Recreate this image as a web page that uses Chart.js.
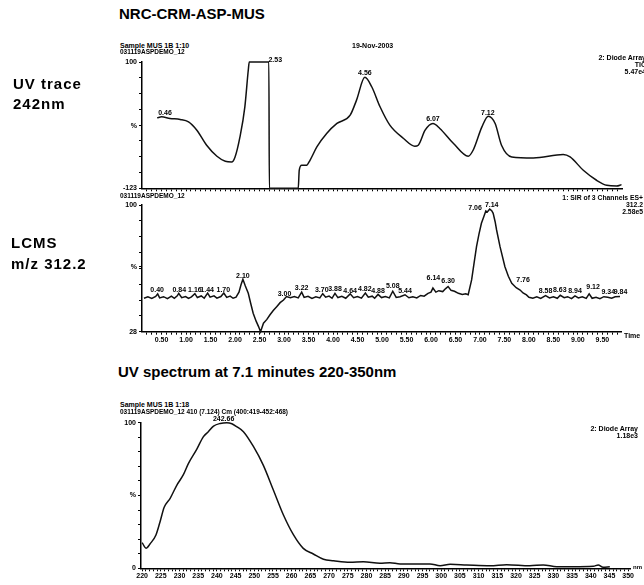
<!DOCTYPE html>
<html><head><meta charset="utf-8">
<script src="https://cdn.jsdelivr.net/npm/chart.js@4.4.1/dist/chart.umd.min.js"></script>
<style>
html,body{margin:0;padding:0;background:#fff;}
#wrap{position:relative;width:644px;height:585px;overflow:hidden;background:#fff;}
canvas{position:absolute;left:0;z-index:1;}
.t{position:absolute;white-space:nowrap;font-family:"Liberation Sans",Arial,sans-serif;font-weight:bold;color:#000;line-height:1;z-index:2;}
.r{text-align:right;}
.big{font-size:15px;letter-spacing:1px;}
</style></head><body>
<div id="wrap">
<canvas id="c1" width="644" height="145" style="top:55px"></canvas>
<canvas id="c2" width="644" height="150" style="top:198px"></canvas>
<canvas id="c3" width="644" height="173" style="top:412px"></canvas>

<div class="t" style="left:119px;top:6px;font-size:15px;">NRC-CRM-ASP-MUS</div>
<div class="t big" style="left:13px;top:75.6px;">UV trace</div>
<div class="t big" style="left:13px;top:95.6px;">242nm</div>
<div class="t big" style="left:11px;top:234.6px;">LCMS</div>
<div class="t big" style="left:11px;top:255.6px;">m/z 312.2</div>
<div class="t" style="left:118px;top:364px;font-size:15px;">UV spectrum at 7.1 minutes 220-350nm</div>

<div class="t" style="left:120px;top:42px;font-size:7px;">Sample MUS 1B 1:10</div>
<div class="t" style="left:120px;top:49px;font-size:6.5px;">031119ASPDEMO_12</div>
<div class="t" style="left:352px;top:42px;font-size:7px;">19-Nov-2003</div>
<div class="t r" style="right:-2px;top:54px;font-size:7px;line-height:7px">2: Diode Array<br>TIC<br>5.47e4</div>

<div class="t" style="left:120px;top:193px;font-size:6.5px;">031119ASPDEMO_12</div>
<div class="t r" style="right:1px;top:194px;font-size:6.8px;line-height:7px">1: SIR of 3 Channels ES+<br>312.2<br>2.58e5</div>
<div class="t" style="left:624px;top:332px;font-size:7px;">Time</div>

<div class="t" style="left:120px;top:401px;font-size:7px;">Sample MUS 1B 1:18</div>
<div class="t" style="left:120px;top:409px;font-size:6.5px;">031119ASPDEMO_12 410 (7.124) Cm (400:419-452:468)</div>
<div class="t r" style="right:6px;top:425px;font-size:7px;line-height:7px">2: Diode Array<br>1.18e3</div>
<div class="t" style="left:633px;top:564px;font-size:6px;">nm</div>
</div>

<script>
// ---------- UV trace 242 nm (time in min, %) ----------
const uvTime = [0.41,0.50,0.67,0.88,1.05,1.22,1.42,1.63,1.80,1.93,2.00,2.10,2.20,2.27,2.29,2.69,2.70,3.29,3.31,3.36,3.46,3.53,3.67,3.87,4.08,4.35,4.48,4.65,4.79,4.96,5.16,5.44,5.67,5.74,5.88,6.04,6.18,6.46,6.76,6.86,7.04,7.17,7.31,7.44,7.65,8.09,8.70,8.84,9.11,9.38,9.59,9.79,9.89];
const uvValue = [1.4,3.2,0.4,-1.4,-5.7,-20.4,-46.9,-66.4,-75.2,-76.5,-67.6,-32.2,20.9,85.8,100,100,-123,-123,-91.2,-82.3,-82.3,-73.5,-49.9,-26.2,-8.5,6.2,32.7,72.9,56.3,20.9,-11.5,-35.0,-48.7,-46.9,-20.4,-8.5,-17.3,-43.9,-66.4,-55.8,-14.5,4.4,-8.5,-46.9,-67.6,-69.4,-63.4,-67.6,-91.2,-108.8,-117.7,-118.9,-116.5];
const uvPeakTexts = ['0.46','2.53','4.56','6.07','7.12'];
const uvPeakTimes = [0.57,2.82,4.65,6.04,7.16];
const uvPeakLevels = [9.2,103.5,80,-0.9,10.3];

// ---------- LCMS m/z 312.2 ----------
const lcmsTime = [
0.14,0.22,0.30,0.38,0.42,0.46,0.54,0.62,0.70,0.76,
0.82,0.85,0.91,0.99,1.05,1.11,1.18,1.23,1.31,1.37,
1.44,1.49,1.57,1.63,1.71,1.77,1.83,1.90,1.96,
2.02,2.08,2.12,2.16,2.21,2.27,2.32,2.37,2.43,2.48,2.52,2.58,2.65,2.71,2.78,2.85,2.92,2.99,3.05,
3.13,3.21,3.29,3.36,3.41,3.49,3.57,3.65,3.73,3.79,3.85,3.92,3.98,
4.04,4.10,4.18,4.26,4.35,4.42,4.50,4.58,4.66,4.72,4.80,4.85,4.92,4.99,5.07,5.15,5.22,5.29,5.37,5.47,
5.55,5.63,5.71,5.79,5.86,5.94,6.00,6.04,6.10,6.16,6.24,6.30,6.35,6.41,6.48,6.56,6.64,6.71,
6.76,6.83,6.88,6.93,6.98,7.03,7.08,7.12,7.15,7.20,7.24,7.27,7.31,7.34,7.41,7.51,7.58,7.65,7.74,7.82,7.88,7.95,
8.00,8.08,8.16,8.24,8.34,8.42,8.50,8.58,8.64,8.72,8.79,8.87,8.94,9.01,9.09,9.17,9.23,9.29,9.37,9.45,9.53,9.61,9.69,9.76,9.86];
const lcmsValue = [
47.0,47.8,46.9,48.0,49.5,47.2,47.9,46.8,48.2,47.0,
48.4,49.8,47.3,48.0,46.9,47.8,49.6,47.4,48.3,47.0,
49.9,47.6,48.4,47.1,48.0,50.0,47.5,48.2,47.0,
47.6,50.5,54.5,57.8,54.0,49.8,44.0,38.5,34.0,30.9,28.0,32.8,35.0,37.5,40.0,42.2,44.5,46.0,48.0,
47.3,48.0,47.2,50.5,47.5,48.1,46.9,47.8,47.2,49.6,47.6,48.2,47.0,
49.8,47.4,48.1,47.0,49.5,47.3,48.0,47.1,50.0,47.6,48.2,47.0,49.2,47.4,48.0,47.2,51.0,47.5,47.9,49.0,
47.3,47.8,47.2,48.6,48.2,49.8,50.5,52.8,50.5,51.3,50.8,52.5,53.7,51.5,51.0,49.8,49.2,49.6,
49.0,57.4,67.0,76.3,83.5,89.6,93.5,96.6,96.0,97.7,96.8,95.3,90.5,85.8,76.3,64.9,59.5,55.5,53.0,51.7,50.0,48.9,
47.6,47.0,47.8,46.9,48.5,47.2,47.9,47.0,48.7,47.3,47.9,46.8,48.4,47.2,47.8,46.9,49.5,47.0,47.6,46.8,47.9,47.6,47.0,47.8,48.0];
const lcmsPeakTexts = ['0.40','0.84','1.16','1.44','1.70','2.10','3.00','3.22','3.70','3.88','4.64','4.82','4.88','5.08','5.44','6.14','6.30','7.06','7.14','7.76','8.58','8.63','8.94','9.12','9.34','9.84'];
const lcmsPeakTimes = [0.41,0.86,1.18,1.43,1.76,2.16,3.01,3.36,3.77,4.04,4.35,4.65,4.92,5.22,5.47,6.05,6.35,6.90,7.24,7.88,8.34,8.63,8.94,9.31,9.62,9.87];
const lcmsPeakLevels = [51.7,51.7,51.7,51.7,51.7,59.7,49.4,52.7,51.7,52.1,51.3,52.3,51.1,54.0,51.1,58.7,57.0,98.1,100,57.4,51.1,51.7,51.3,53.3,50.5,50.5];

// ---------- UV spectrum at 7.1 min ----------
const specNm = [220.0,221.1,222.1,223.7,224.8,225.9,227.5,229.3,231.0,232.4,234.6,236.4,237.7,239.1,240.9,242.66,244.0,245.3,247.1,249.8,252.4,255.1,257.8,260.5,263.1,265.8,268.5,271.2,275.6,279.2,283.6,286.3,289.0,292.5,297.0,299.7,302.4,306.8,313.1,317.5,323.7,327.3,330.9,335.3,340.7,342.0,343.3,345.1];
const specValue = [17.6,13.7,16.7,22.9,32.0,41.9,48.1,57.2,64.1,72.1,81.7,90.4,93.8,97.7,99.5,100,99.3,97.3,93.8,83.5,70.9,53.8,36.6,22.9,13.7,9.8,6.2,5.2,4.1,4.5,3.4,3.8,3.0,3.0,3.0,1.8,2.7,2.3,1.8,2.5,1.8,2.3,1.1,1.1,1.4,2.3,0.7,1.1];
const specPeakTexts = ['242.66'];
const specPeakNm = [241.8];
const specPeakLevels = [102.5];

// ---------- tick labels ----------
const timeTickValues = [0.5,1.0,1.5,2.0,2.5,3.0,3.5,4.0,4.5,5.0,5.5,6.0,6.5,7.0,7.5,8.0,8.5,9.0,9.5];
const timeTickLabels = ['0.50','1.00','1.50','2.00','2.50','3.00','3.50','4.00','4.50','5.00','5.50','6.00','6.50','7.00','7.50','8.00','8.50','9.00','9.50'];
const specTickValues = [220,225,230,235,240,245,250,255,260,265,270,275,280,285,290,295,300,305,310,315,320,325,330,335,340,345,350];
const specTickLabels = ['220','225','230','235','240','245','250','255','260','265','270','275','280','285','290','295','300','305','310','315','320','325','330','335','340','345','350'];
const uvYTickValues = [-123,-13,100];
const uvYTickLabels = ['-123','%','100'];
const lcmsYTickValues = [28,65,100];
const lcmsYTickLabels = ['28','%','100'];
const specYTickValues = [0,50,100];
const specYTickLabels = ['0','%','100'];

Chart.defaults.font.family = '"Liberation Sans", Arial, sans-serif';
Chart.defaults.font.size = 7;
Chart.defaults.font.weight = 'bold';
Chart.defaults.color = '#000';

function seq(a, b, step){ const out=[]; const n=Math.round((b-a)/step); for(let i=0;i<=n;i++) out.push(+(a+i*step).toFixed(4)); return out; }
function merge(minor, major){ const s=new Set(minor.concat(major).map(v=>+v.toFixed(4))); return Array.from(s).sort((p,q)=>p-q); }
function labelFor(v, vals, labels){ for(let i=0;i<vals.length;i++){ if(Math.abs(vals[i]-v)<1e-6) return labels[i]; } return ''; }

const peakLabels = {
  id:'peakLabels',
  afterDatasetsDraw(chart, args, o){
    if(!o || !o.texts) return;
    const {ctx} = chart; const xs = chart.scales.x, ys = chart.scales.y;
    ctx.save();
    ctx.font = 'bold 7px "Liberation Sans", Arial, sans-serif';
    ctx.fillStyle = '#000'; ctx.textAlign='center'; ctx.textBaseline='middle';
    o.texts.forEach((t,i)=>{ ctx.fillText(t, xs.getPixelForValue(o.xs[i]), ys.getPixelForValue(o.ys[i])); });
    ctx.restore();
  }
};

function makeChart(id, c){
  return new Chart(document.getElementById(id), {
    type:'line',
    data:{datasets:[{data:c.xs.map((x,i)=>({x:x,y:c.ys[i]})), borderColor:'#111', borderWidth:1.5, pointRadius:0, fill:false, clip:4,
      tension: c.mono?0.4:0, cubicInterpolationMode: c.mono?'monotone':'default'}]},
    options:{
      responsive:false, animation:false, devicePixelRatio:1,
      layout:{padding:c.pad},
      plugins:{legend:{display:false}, tooltip:{enabled:false}, title:{display:false},
        peakLabels:{texts:c.pk.t, xs:c.pk.x, ys:c.pk.y}},
      scales:{
        x:{type:'linear', bounds:'data', min:c.xmin, max:c.xmax,
          afterBuildTicks:s=>{ s.ticks = c.xTicks.map(v=>({value:v})); },
          afterFit:s=>{ s.height = c.xh; },
          grid:{drawOnChartArea:false, drawTicks:true, tickLength:3, color:'#000', lineWidth:1},
          border:{display:true, color:'#000', width:1.5},
          ticks:{display:c.xLab, autoSkip:false, maxRotation:0, minRotation:0, padding:1,
            callback:v=>labelFor(v, c.xMajor, c.xMajorLab)}},
        y:{type:'linear', bounds:'data', min:c.ymin, max:c.ymax,
          afterBuildTicks:s=>{ s.ticks = c.yTicks.map(v=>({value:v})); },
          afterFit:s=>{ s.width = 30; },
          grid:{drawOnChartArea:false, drawTicks:true, tickLength:3, color:'#000', lineWidth:1},
          border:{display:true, color:'#000', width:1.5},
          ticks:{autoSkip:false, padding:2, callback:v=>labelFor(v, c.yMajor, c.yMajorLab)}}
      }
    },
    plugins:[peakLabels]
  });
}

const timeMinor = seq(0.2, 9.8, 0.1);

makeChart('c1', {xs:uvTime, ys:uvValue, mono:true,
  pad:{left:112, right:22, top:7, bottom:6.7},
  xmin:0.10, xmax:9.90, xTicks:merge(timeMinor, timeTickValues), xMajor:timeTickValues, xMajorLab:timeTickLabels, xh:5, xLab:false,
  ymin:-123, ymax:100, yTicks:merge(seq(-123,100,27.875), uvYTickValues), yMajor:uvYTickValues, yMajorLab:uvYTickLabels,
  pk:{t:uvPeakTexts, x:uvPeakTimes, y:uvPeakLevels}});

makeChart('c2', {xs:lcmsTime, ys:lcmsValue, mono:false,
  pad:{left:112, right:23, top:7, bottom:2.3},
  xmin:0.10, xmax:9.88, xTicks:merge(timeMinor, timeTickValues), xMajor:timeTickValues, xMajorLab:timeTickLabels, xh:14, xLab:true,
  ymin:28, ymax:100, yTicks:merge(seq(28,100,9), lcmsYTickValues), yMajor:lcmsYTickValues, yMajorLab:lcmsYTickLabels,
  pk:{t:lcmsPeakTexts, x:lcmsPeakTimes, y:lcmsPeakLevels}});

makeChart('c3', {xs:specNm, ys:specValue, mono:true,
  pad:{left:111, right:14, top:10.7, bottom:2.7},
  xmin:219.7, xmax:350.5, xTicks:merge(seq(221,350,1), specTickValues), xMajor:specTickValues, xMajorLab:specTickLabels, xh:14, xLab:true,
  ymin:0, ymax:100, yTicks:merge(seq(0,100,10), specYTickValues), yMajor:specYTickValues, yMajorLab:specYTickLabels,
  pk:{t:specPeakTexts, x:specPeakNm, y:specPeakLevels}});
</script>
</body></html>
